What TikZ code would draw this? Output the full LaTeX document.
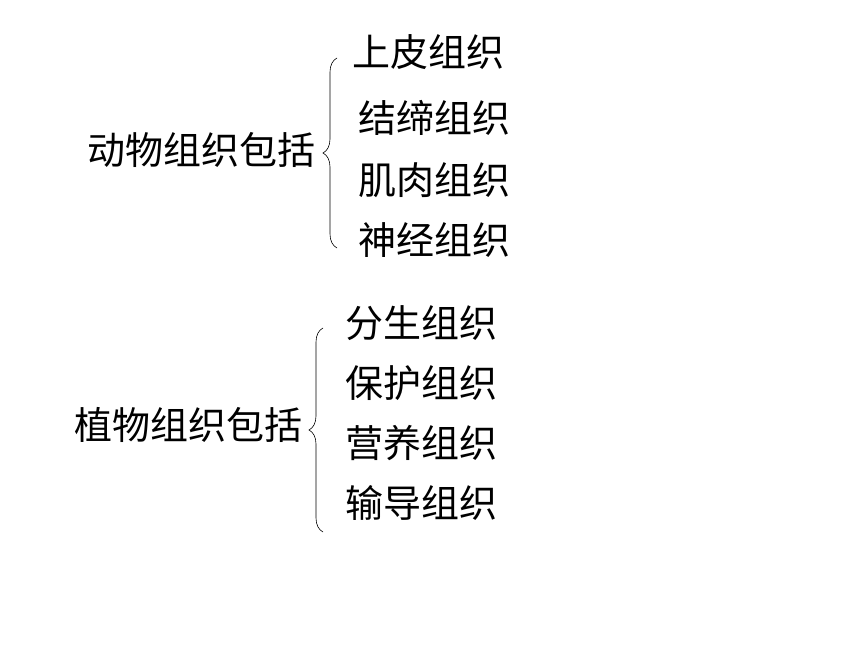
\documentclass[tikz,border=0pt]{standalone}
\usepackage{fontspec}
\setmainfont{Noto Sans CJK SC}
\usetikzlibrary{decorations.pathreplacing}

\begin{document}
\begin{tikzpicture}[x=1pt,y=-1pt,
    item/.style={font=\fontsize{38}{40}\selectfont, inner sep=0pt, anchor=west},
    bracket/.style={decorate, decoration={brace, amplitude=14pt}, line width=0.6pt}]
        \useasboundingbox (0,0) rectangle (860,645);
        % animal tissues
        \node[item] (animal) at (87,150) {动物组织包括};
        \node[item] (epi) at (352,52) {上皮组织};
        \node[item] (conn) at (358,118) {结缔组织};
        \node[item] (muscle) at (358,180) {肌肉组织};
        \node[item] (nerve) at (358,240) {神经组织};
        \coordinate (atop) at (337,58);
        \coordinate (abot) at (337,248);
        \draw[bracket] (abot) -- (atop);
        % plant tissues
        \node[item] (plant) at (74,425) {植物组织包括};
        \node[item] (mer) at (345,323) {分生组织};
        \node[item] (prot) at (345,383) {保护组织};
        \node[item] (nutr) at (345,443) {营养组织};
        \node[item] (cond) at (345,503) {输导组织};
        \coordinate (ptop) at (323,328);
        \coordinate (pbot) at (323,532);
        \draw[bracket] (pbot) -- (ptop);
\end{tikzpicture}
\end{document}
